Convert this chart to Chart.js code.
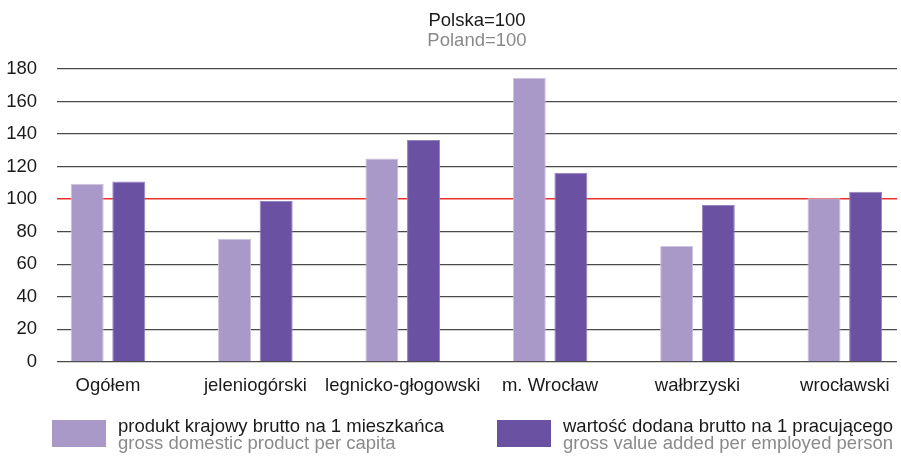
<!DOCTYPE html>
<html>
<head>
<meta charset="utf-8">
<script src="https://cdn.jsdelivr.net/npm/chart.js@4/dist/chart.umd.min.js"></script>
<style>
  html, body { margin: 0; padding: 0; background: #fff; }
  #wrap { width: 901px; height: 456px; }
</style>
</head>
<body>
<div id="wrap"><canvas id="chart" width="901" height="456"></canvas></div>
<script>
// Podregiony dolnośląskie - PKB na mieszkańca i WDB na pracującego (Polska=100)
const categories = ['Ogółem', 'jeleniogórski', 'legnicko-głogowski', 'm. Wrocław', 'wałbrzyski', 'wrocławski'];
const gdpPerCapita = [109.4, 75.7, 125.0, 174.6, 71.2, 100.6];
const gvaPerEmployed = [110.8, 98.9, 136.4, 116.2, 96.4, 104.6];
const yTicks = [0, 20, 40, 60, 80, 100, 120, 140, 160, 180];

const seriesPl = ['produkt krajowy brutto na 1 mieszkańca', 'wartość dodana brutto na 1 pracującego'];
const seriesEn = ['gross domestic product per capita', 'gross value added per employed person'];

const FONT = "'Liberation Sans', Arial, sans-serif";
const LIGHT = '#a999c8';
const DARK = '#6b51a1';

// Legenda rysowana ręcznie (dwie linie, druga szara)
const twoLineLegend = {
    id: 'twoLineLegend',
    afterDraw(chart) {
        const ctx = chart.ctx;
        const spots = [{ box: 52, text: 118 }, { box: 497, text: 563 }];
        ctx.save();
        chart.data.datasets.forEach((ds, i) => {
            const s = spots[i];
            ctx.fillStyle = ds.backgroundColor;
            ctx.fillRect(s.box, 420, 54, 27);
            ctx.font = '18.5px ' + FONT;
            ctx.textBaseline = 'alphabetic';
            ctx.fillStyle = '#1a1a1a';
            ctx.fillText(seriesPl[i], s.text, 432);
            ctx.fillStyle = '#8a8a8a';
            ctx.fillText(seriesEn[i], s.text, 449);
        });
        ctx.restore();
    }
};

new Chart(document.getElementById('chart'), {
    type: 'bar',
    data: {
        datasets: [{
            label: seriesPl[0],
            data: gdpPerCapita.map((v, i) => ({ x: i, y: v })),
            backgroundColor: LIGHT,
            borderColor: '#cdc4e0',
            borderWidth: 1,
            categoryPercentage: 0.565,
            barPercentage: 0.793
        }, {
            label: seriesPl[1],
            data: gvaPerEmployed.map((v, i) => ({ x: i, y: v })),
            backgroundColor: DARK,
            borderColor: '#9383bf',
            borderWidth: 1,
            categoryPercentage: 0.565,
            barPercentage: 0.793
        }]
    },
    options: {
        responsive: false,
        animation: false,
        layout: { padding: { left: 6, right: 4, top: 0, bottom: 46 } },
        plugins: {
            legend: { display: false },
            tooltip: { enabled: false },
            title: {
                display: true,
                text: 'Polska=100',
                color: '#1a1a1a',
                fullSize: false,
                font: { family: FONT, size: 18.5, weight: 'normal', lineHeight: 1 },
                padding: { top: 12, bottom: 0 }
            },
            subtitle: {
                display: true,
                text: 'Poland=100',
                color: '#8a8a8a',
                fullSize: false,
                font: { family: FONT, size: 18.5, weight: 'normal', lineHeight: 1 },
                padding: { top: 1, bottom: 19 }
            }
        },
        scales: {
            x: {
                type: 'linear',
                offset: false,
                min: -0.346,
                max: 5.354,
                grid: { display: false, drawTicks: false },
                border: { display: false },
                afterBuildTicks: (scale) => { scale.ticks = categories.map((_, i) => ({ value: i })); },
                // etykiety nie leżą na krawędziach osi, więc bez dodatkowego marginesu
                afterFit: (scale) => { scale.paddingLeft = 0; scale.paddingRight = 0; },
                ticks: {
                    autoSkip: false,
                    maxRotation: 0,
                    minRotation: 0,
                    padding: 13,
                    color: '#1a1a1a',
                    font: { family: FONT, size: 18.5, lineHeight: 1.2 },
                    callback: (v) => categories[v]
                }
            },
            y: {
                min: 0,
                max: 180,
                afterBuildTicks: (scale) => { scale.ticks = yTicks.map(v => ({ value: v })); },
                afterFit: (scale) => { scale.width = 51; },
                grid: {
                    drawTicks: false,
                    color: (c) => c.tick && c.tick.value === 100 ? '#e8332b' : '#4a4a4a',
                    lineWidth: (c) => c.tick && c.tick.value === 100 ? 1.6 : 1.2
                },
                border: { display: false },
                ticks: {
                    padding: 20,
                    color: '#1a1a1a',
                    font: { family: FONT, size: 18.5 }
                }
            }
        }
    },
    plugins: [twoLineLegend]
});
</script>
</body>
</html>
